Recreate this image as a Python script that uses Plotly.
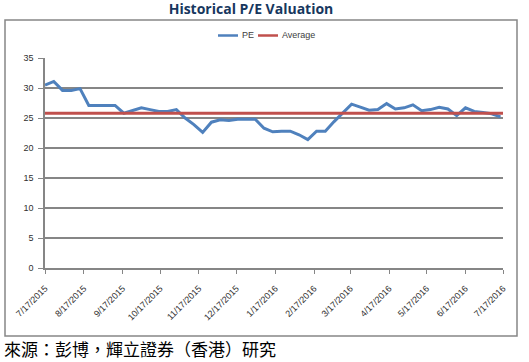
import plotly.graph_objects as go
import pandas as pd

dates = pd.date_range("2015-07-17", periods=53, freq="7D").strftime("%Y-%m-%d").tolist()
pe = [30.5, 31.1, 29.6, 29.6, 29.9, 27.1, 27.1, 27.1, 27.1, 25.8,
      26.2, 26.7, 26.4, 26.1, 26.1, 26.4, 25.0, 23.9, 22.6, 24.3,
      24.7, 24.6, 24.8, 24.8, 24.8, 23.3, 22.7, 22.8, 22.8, 22.2,
      21.4, 22.8, 22.8, 24.4, 25.8, 27.3, 26.8, 26.3, 26.4, 27.4,
      26.5, 26.7, 27.2, 26.2, 26.4, 26.8, 26.5, 25.4, 26.7, 26.1,
      25.9, 25.7, 25.2]
average = 25.8
tick_dates = ["2015-07-17", "2015-08-17", "2015-09-17", "2015-10-17", "2015-11-17",
              "2015-12-17", "2016-01-17", "2016-02-17", "2016-03-17", "2016-04-17",
              "2016-05-17", "2016-06-17", "2016-07-17"]
tick_labels = ["7/17/2015", "8/17/2015", "9/17/2015", "10/17/2015", "11/17/2015",
               "12/17/2015", "1/17/2016", "2/17/2016", "3/17/2016", "4/17/2016",
               "5/17/2016", "6/17/2016", "7/17/2016"]
y_ticks = [0, 5, 10, 15, 20, 25, 30, 35]
series_names = ["PE", "Average"]
series_colors = ["#4F81BD", "#C0504D"]

fig = go.Figure()
fig.add_trace(go.Scatter(x=dates, y=pe, mode="lines", name=series_names[0],
                         line=dict(color=series_colors[0], width=3)))
fig.add_trace(go.Scatter(x=[tick_dates[0], tick_dates[-1]], y=[average, average],
                         mode="lines", name=series_names[1],
                         line=dict(color=series_colors[1], width=3)))

W, H = 529, 362
L, R, T, B = 45, 26, 58, 94
pw, ph = W - L - R, H - T - B

def px(x):
    return (x - L) / pw

def py(y):
    return (H - B - y) / ph

# manual legend (compact, like the original)
legend_items = [(218, 238, 240), (258, 278, 280)]
shapes = [dict(type="rect", xref="paper", yref="paper",
               x0=px(5), x1=px(517), y0=py(336), y1=py(20),
               line=dict(color="#868686", width=1.5), fillcolor="rgba(0,0,0,0)",
               layer="below")]
annotations = []
for (x0, x1, xt), name, color in zip(legend_items, series_names, series_colors):
    shapes.append(dict(type="line", xref="paper", yref="paper",
                       x0=px(x0), x1=px(x1), y0=py(35.5), y1=py(35.5),
                       line=dict(color=color, width=2.5)))
    annotations.append(dict(text=name, xref="paper", yref="paper", x=px(xt), y=py(35.5),
                            xanchor="left", yanchor="middle", showarrow=False,
                            font=dict(family="Liberation Sans, sans-serif", size=9,
                                      color="#404040")))
annotations.append(dict(text="來源：彭博，輝立證券（香港）研究", xref="paper", yref="paper",
                        x=px(2), y=py(348), xanchor="left", yanchor="middle", showarrow=False,
                        font=dict(family="Noto Sans CJK TC", size=17, color="#000000")))

fig.update_layout(
    width=W, height=H,
    margin=dict(l=L, r=R, t=T, b=B, autoexpand=False),
    paper_bgcolor="white", plot_bgcolor="white",
    font=dict(family="Liberation Sans, DejaVu Sans, sans-serif", size=9, color="#404040"),
    title=dict(text="<b>Historical P/E Valuation</b>", x=px(251), xref="paper",
               xanchor="center", y=1 - 9 / H, yanchor="middle",
               font=dict(family="Open Sans, sans-serif", size=14, color="#17375E")),
    showlegend=False,
    xaxis=dict(type="date", range=[tick_dates[0], tick_dates[-1]],
               tickvals=tick_dates, ticktext=tick_labels, tickangle=-45,
               ticks="outside", ticklen=4, tickcolor="#868686", automargin=False,
               ticklabelstandoff=6,
               showgrid=False, showline=True, linecolor="#868686", linewidth=1.5,
               tickfont=dict(size=9, color="#303030"), zeroline=False),
    yaxis=dict(range=[0, 35], tickvals=y_ticks, ticks="outside", ticklen=5,
               tickcolor="#868686", showgrid=True, gridcolor="#868686", gridwidth=1.5,
               showline=True, linecolor="#868686", linewidth=1.5, zeroline=False,
               ticklabelstandoff=3,
               automargin=False, tickfont=dict(size=9, color="#303030")),
    shapes=shapes,
    annotations=annotations,
)

fig.write_html("out.html", config={"displayModeBar": False},
               post_script="document.body.style.margin='0';")
